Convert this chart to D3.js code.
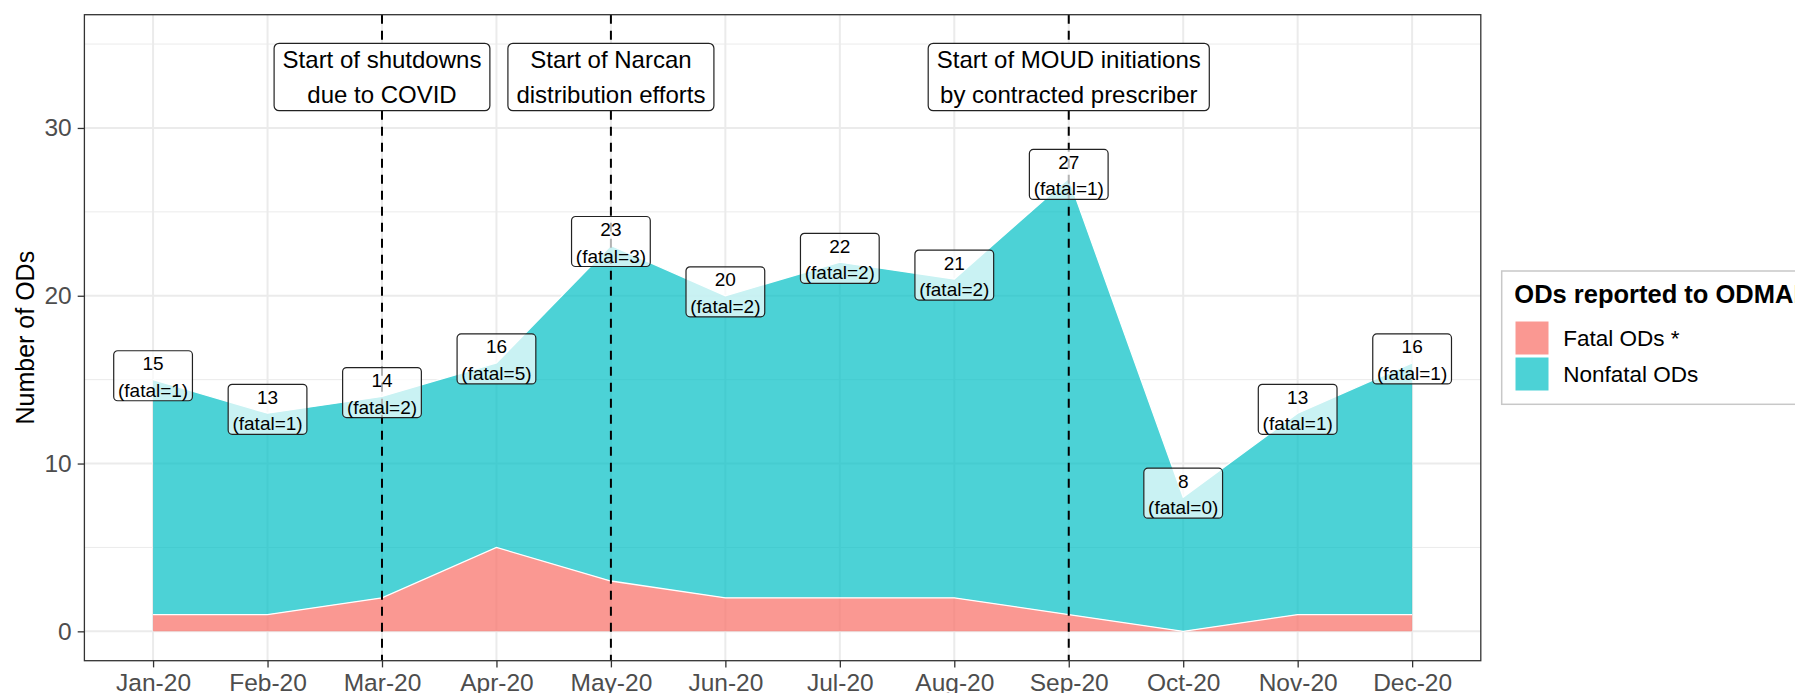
<!DOCTYPE html>
<html>
<head>
<meta charset="utf-8">
<script src="https://cdn.jsdelivr.net/npm/d3@7"></script>
<style>
  html, body { margin: 0; padding: 0; background: #fff; }
  svg { display: block; font-family: "Liberation Sans", Arial, Helvetica, sans-serif; }
</style>
</head>
<body>
<svg id="chart" width="1795" height="693"></svg>
<script>
// data
const months = ["Jan-20", "Feb-20", "Mar-20", "Apr-20", "May-20", "Jun-20",
    "Jul-20", "Aug-20", "Sep-20", "Oct-20", "Nov-20", "Dec-20"];
const totalODs = [15, 13, 14, 16, 23, 20, 22, 21, 27, 8, 13, 16];
const fatalODs = [1, 1, 2, 5, 3, 2, 2, 2, 1, 0, 1, 1];

const eventMonths = ["Mar-20", "May-20", "Sep-20"];
const eventLabels = [
    ["Start of shutdowns", "due to COVID"],
    ["Start of Narcan", "distribution efforts"],
    ["Start of MOUD initiations", "by contracted prescriber"],
];
const eventLabelY = 33;

const yMajor = [0, 10, 20, 30];
const yMinor = [5, 15, 25, 35];

const legendTitle = "ODs reported to ODMAP";
const legendLabels = ["Fatal ODs *", "Nonfatal ODs"];
const yTitle = "Number of ODs";

const colFatal = "#F8766D", colNonfatal = "#00BFC4";

// layout
const panel = { left: 84.4, top: 14.7, right: 1480.8, bottom: 660.7 };

const svg = d3.select("#chart");

const x = d3.scalePoint()
    .domain(months)
    .range([panel.left, panel.right])
    .padding(0.6);

const y = d3.scaleLinear()
    .domain([-1.75, 36.75])
    .range([panel.bottom, panel.top]);

const data = months.map((m, i) => ({
    month: m,
    total: totalODs[i],
    fatal: fatalODs[i],
}));

// gridlines
const grid = svg.append("g");
grid.selectAll(".minor")
    .data(yMinor)
    .join("line")
    .attr("x1", panel.left).attr("x2", panel.right)
    .attr("y1", (d) => y(d)).attr("y2", (d) => y(d))
    .attr("stroke", "#EBEBEB").attr("stroke-width", 1);
grid.selectAll(".major")
    .data(yMajor)
    .join("line")
    .attr("x1", panel.left).attr("x2", panel.right)
    .attr("y1", (d) => y(d)).attr("y2", (d) => y(d))
    .attr("stroke", "#EBEBEB").attr("stroke-width", 2);
grid.selectAll(".vmajor")
    .data(months)
    .join("line")
    .attr("x1", (d) => x(d)).attr("x2", (d) => x(d))
    .attr("y1", panel.top).attr("y2", panel.bottom)
    .attr("stroke", "#EBEBEB").attr("stroke-width", 2);

// stacked areas
const fatalArea = d3.area()
    .x((d) => x(d.month))
    .y0(y(0))
    .y1((d) => y(d.fatal));
const nonfatalArea = d3.area()
    .x((d) => x(d.month))
    .y0((d) => y(d.fatal))
    .y1((d) => y(d.total));

svg.append("path").datum(data)
    .attr("d", nonfatalArea)
    .attr("fill", colNonfatal).attr("fill-opacity", 0.7);
svg.append("path").datum(data)
    .attr("d", fatalArea)
    .attr("fill", colFatal).attr("fill-opacity", 0.75);

const edge = (key) => d3.line().x((d) => x(d.month)).y((d) => y(d[key]));
svg.append("path").datum(data)
    .attr("d", edge("fatal"))
    .attr("fill", "none").attr("stroke", "#fff").attr("stroke-width", 1.3);
svg.append("path").datum(data)
    .attr("d", edge("total"))
    .attr("fill", "none").attr("stroke", "#fff").attr("stroke-width", 1.3);

// event lines
svg.append("g").selectAll("line")
    .data(eventMonths)
    .join("line")
    .attr("x1", (d) => x(d)).attr("x2", (d) => x(d))
    .attr("y1", panel.top).attr("y2", panel.bottom)
    .attr("stroke", "#000").attr("stroke-width", 2)
    .attr("stroke-dasharray", "9,7");

// value labels
const valueLabels = svg.append("g").selectAll("g")
    .data(data)
    .join("g")
    .attr("transform", (d) => `translate(${x(d.month)},${y(d.total) - 28.9})`);

valueLabels.each(function (d) {
    const g = d3.select(this);
    const rect = g.append("rect");
    const t1 = g.append("text").attr("y", 19.5).text(d.total);
    const t2 = g.append("text").attr("y", 46).text(`(fatal=${d.fatal})`);
    g.selectAll("text")
        .attr("text-anchor", "middle")
        .attr("font-size", 19)
        .attr("fill", "#000");
    const w = Math.max(t1.node().getComputedTextLength(),
        t2.node().getComputedTextLength()) + 8.5;
    rect.attr("x", -w / 2).attr("y", 0)
        .attr("width", w).attr("height", 50)
        .attr("rx", 4)
        .attr("fill", "#fff").attr("fill-opacity", 0.7)
        .attr("stroke", "#222").attr("stroke-width", 1.2);
});

// event annotation boxes
const eventBoxes = svg.append("g").selectAll("g")
    .data(eventMonths)
    .join("g")
    .attr("transform", (d) => `translate(${x(d)},${y(eventLabelY) - 34.3})`);

eventBoxes.each(function (d, i) {
    const g = d3.select(this);
    const rect = g.append("rect");
    const lines = eventLabels[i].map((s, j) =>
        g.append("text").attr("y", 25 + j * 35).text(s)
    );
    g.selectAll("text")
        .attr("text-anchor", "middle")
        .attr("font-size", 24)
        .attr("fill", "#000");
    const w = d3.max(lines, (t) => t.node().getComputedTextLength()) + 17;
    rect.attr("x", -w / 2).attr("y", 0)
        .attr("width", w).attr("height", 67.4)
        .attr("rx", 5)
        .attr("fill", "#fff")
        .attr("stroke", "#222").attr("stroke-width", 1.2);
});

// panel border
svg.append("rect")
    .attr("x", panel.left).attr("y", panel.top)
    .attr("width", panel.right - panel.left)
    .attr("height", panel.bottom - panel.top)
    .attr("fill", "none")
    .attr("stroke", "#333").attr("stroke-width", 1.3);

// axes
const xAxis = svg.append("g")
    .attr("transform", `translate(0,${panel.bottom})`)
    .call(d3.axisBottom(x).tickSize(6.7).tickPadding(6.6));
const yAxis = svg.append("g")
    .attr("transform", `translate(${panel.left},0)`)
    .call(d3.axisLeft(y).tickValues(yMajor).tickSize(6.7).tickPadding(6));

[xAxis, yAxis].forEach((a) => {
    a.select(".domain").remove();
    a.selectAll(".tick line").attr("stroke", "#333").attr("stroke-width", 1.3);
    a.selectAll(".tick text")
        .attr("fill", "#4D4D4D")
        .attr("font-size", 24.5)
        .attr("font-family", "Liberation Sans, Arial, Helvetica, sans-serif");
});

svg.append("text")
    .attr("transform", `translate(34,${(panel.top + panel.bottom) / 2}) rotate(-90)`)
    .attr("text-anchor", "middle")
    .attr("font-size", 25)
    .attr("fill", "#000")
    .text(yTitle);

// legend
const legend = svg.append("g");
legend.append("rect")
    .attr("x", 1501.7).attr("y", 271)
    .attr("width", 340).attr("height", 133.3)
    .attr("fill", "#fff")
    .attr("stroke", "#C8C8C8").attr("stroke-width", 1.5);
legend.append("text")
    .attr("x", 1514.3).attr("y", 303.3)
    .attr("font-size", 25.5)
    .attr("font-weight", "bold")
    .attr("fill", "#000")
    .text(legendTitle);

const legendColors = [colFatal, colNonfatal];
const legendOpacity = [0.75, 0.7];
legend.selectAll(".key")
    .data(legendLabels)
    .join("rect")
    .attr("x", 1515)
    .attr("y", (d, i) => 321 + i * 36)
    .attr("width", 34).attr("height", 34)
    .attr("fill", (d, i) => legendColors[i])
    .attr("fill-opacity", (d, i) => legendOpacity[i])
    .attr("stroke", "#fff").attr("stroke-width", 1);
legend.selectAll(".lab")
    .data(legendLabels)
    .join("text")
    .attr("x", 1563.3)
    .attr("y", (d, i) => 338 + i * 36)
    .attr("dy", "0.35em")
    .attr("font-size", 22.5)
    .attr("fill", "#000")
    .text((d) => d);
</script>
</body>
</html>
